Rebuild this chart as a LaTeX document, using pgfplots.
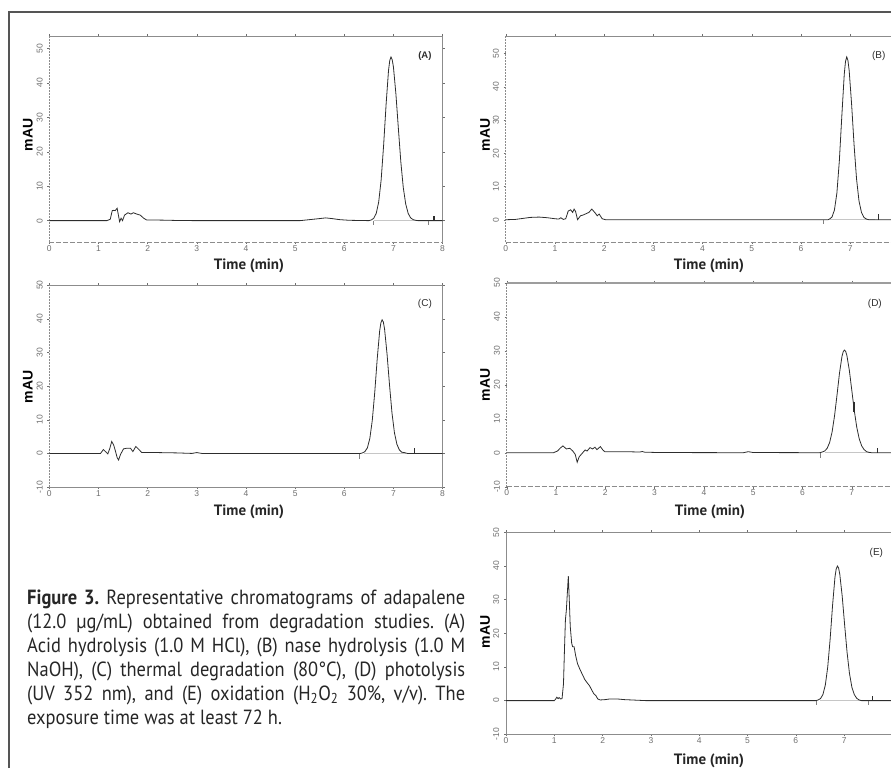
\documentclass[border=0pt]{standalone}
\usepackage{fontspec}
\setmainfont{PT Sans}
\newfontfamily\arial{Liberation Sans}
\newfontfamily\capfont{PT Sans}[FakeStretch=0.9]
\usepackage{pgfplots}
\pgfplotsset{compat=1.18}

\definecolor{framec}{RGB}{85,85,85}
\definecolor{axisc}{RGB}{140,140,140}
\definecolor{tracec}{RGB}{45,45,45}
\definecolor{tickc}{RGB}{110,110,110}

\pgfplotsset{
  chrom/.style={
    scale only axis, anchor=north west, clip=false,
    axis line style={draw=none},
    xmin=0, xtick={0,1,...,8}, ytick={-10,0,10,20,30,40,50},
    tick align=outside, major tick length=2pt,
    tick style={draw=tickc, line width=0.4pt},
    /pgf/number format/assume math mode=true,
    tick label style={font=\arial\fontsize{8.5}{9}\selectfont, text=tickc},
    xticklabel style={inner sep=1pt},
    yticklabel style={rotate=90, anchor=south, inner sep=0pt, inner ysep=4.5pt},
  },
  tr/.style={tracec, line width=0.8pt, mark=none},
  mk/.style={gray, line width=0.6pt, mark=none},
  bl/.style={gray!45, line width=0.6pt, mark=none},
}

\begin{document}
\frenchspacing
\begin{tikzpicture}
\path[use as bounding box] (0,0) rectangle (891pt,-768pt);
\draw[framec, line width=1.6pt] (9pt,-768pt) -- (9pt,-12pt) -- (891pt,-12pt);

% (A) acid hydrolysis
\begin{axis}[chrom, at={(49.3pt,-36pt)}, width=393.3pt, height=206pt,
  xmax=8, ymin=-6.2, ymax=53.6]
  \draw[axisc, line width=0.7pt] (rel axis cs:0,1) -- (rel axis cs:1,1) -- (rel axis cs:1,0);
  \draw[axisc, line width=0.6pt, dash pattern=on 2pt off 1pt] (rel axis cs:0,0) -- (rel axis cs:0,1);
  \draw[axisc, line width=0.6pt, dash pattern=on 5pt off 2pt] (rel axis cs:0,0) -- (rel axis cs:1,0);
  \addplot[bl] coordinates {(6.6,0)(7.7,0)};
  \addplot[tr] coordinates {
    (0,0)(1.17,0)(1.24,0.4)(1.28,2.9)(1.31,3.0)(1.34,2.9)(1.38,3.6)(1.43,-0.3)
    (1.46,0.7)(1.49,0)(1.53,1.6)(1.60,2.3)(1.66,1.9)(1.71,2.3)(1.78,1.9)
    (1.85,1.6)(1.92,0.7)(1.98,0.2)(2.3,0.15)(2.6,0.05)(3,0)(5.1,0)(5.3,0.3)
    (5.5,0.6)(5.62,0.8)(5.75,0.6)(5.9,0.3)(6.1,0.1)(6.5,0)
    (6.55,0.2)(6.6,0.7)(6.65,2.1)(6.7,5.4)(6.75,11.8)(6.8,21.8)(6.85,33.6)
    (6.9,43.6)(6.925,46.5)(6.95,47.5)(6.975,46.7)(7.0,44.6)(7.05,36.8)
    (7.1,26.8)(7.15,17.1)(7.2,9.6)(7.25,4.8)(7.3,2.1)(7.35,0.8)(7.4,0.3)
    (7.45,0.1)(7.5,0)(8,0)};
  \addplot[mk] coordinates {(6.6,0)(6.6,-1.2)};
  \addplot[mk] coordinates {(7.7,0)(7.7,-1.2)};
  \addplot[tr, line width=1.5pt] coordinates {(7.82,0)(7.82,1.3)};
  \node[font=\arial\bfseries\fontsize{9.5}{10}\selectfont, text=tracec] at (rel axis cs:0.955,0.902) {(A)};
\end{axis}

% (B) base hydrolysis
\begin{axis}[chrom, at={(505.7pt,-36pt)}, width=385.3pt, height=206pt,
  xmax=7.83, ymin=-6.7, ymax=55.3]
  \draw[axisc, line width=0.7pt] (rel axis cs:0,1) -- (rel axis cs:1,1);
  \draw[axisc, line width=0.6pt, dash pattern=on 2pt off 1pt] (rel axis cs:0,0) -- (rel axis cs:0,1);
  \draw[axisc, line width=0.6pt, dash pattern=on 5pt off 2pt] (rel axis cs:0,0) -- (rel axis cs:1,0);
  \addplot[bl] coordinates {(6.6,0)(7.5,0)};
  \addplot[tr] coordinates {
    (0,0)(0.2,0.1)(0.35,0.4)(0.5,0.7)(0.68,0.8)(0.85,0.6)(1.0,0.3)(1.08,0.2)
    (1.12,0.6)(1.17,0.1)(1.22,0.3)(1.27,2.6)(1.32,3.0)(1.36,2.2)(1.39,3.2)
    (1.42,2.5)(1.46,0)(1.52,1.2)(1.57,1.4)(1.63,1.8)(1.69,2.2)(1.75,3.2)
    (1.82,2.0)(1.86,1.2)(1.9,1.7)(1.96,0.3)(2.03,0)(6.55,0)
    (6.58,0.2)(6.63,0.8)(6.68,2.9)(6.73,8.0)(6.78,17.7)(6.83,31.1)(6.88,43.8)
    (6.905,47.6)(6.93,49)(6.955,47.9)(6.98,44.9)(7.03,34.6)(7.08,22.4)
    (7.13,12.2)(7.18,5.6)(7.23,2.2)(7.28,0.7)(7.33,0.2)(7.38,0)(7.83,0)};
  \addplot[mk] coordinates {(6.45,0)(6.45,-1.2)};
  \addplot[tr] coordinates {(7.57,0)(7.57,1.6)};
  \node[font=\arial\fontsize{10}{10}\selectfont, text=tracec] at (rel axis cs:0.968,0.902) {(B)};
\end{axis}

% (C) thermal degradation
\begin{axis}[chrom, at={(49.3pt,-285pt)}, width=393.3pt, height=202.3pt,
  xmax=8, ymin=-10, ymax=50]
  \draw[axisc, line width=0.7pt] (rel axis cs:0,0) -- (rel axis cs:1,0) -- (rel axis cs:1,1) -- (rel axis cs:0,1);
  \draw[axisc, line width=0.6pt, dash pattern=on 2pt off 1pt] (rel axis cs:0,0) -- (rel axis cs:0,1);
  \addplot[bl] coordinates {(6.4,0)(7.25,0)};
  \addplot[tr] coordinates {
    (0,0)(1.04,0)(1.10,1.2)(1.15,0.5)(1.19,-0.1)(1.23,1.5)(1.27,3.6)(1.31,2.5)
    (1.35,0.5)(1.38,-1.2)(1.41,-1.9)(1.45,-0.2)(1.51,1.4)(1.58,1.6)(1.65,1.6)
    (1.70,0.6)(1.76,2.1)(1.83,1.1)(1.88,0.3)(2.2,0.3)(2.6,0.2)(2.9,0.05)
    (3.0,0.3)(3.1,0.05)(6.32,0)
    (6.37,0.2)(6.42,0.6)(6.47,1.7)(6.52,4.5)(6.57,9.9)(6.62,18.2)(6.67,28.1)
    (6.72,36.4)(6.745,38.8)(6.77,39.7)(6.795,39.0)(6.82,36.9)(6.87,29.5)
    (6.92,20.4)(6.97,12.1)(7.02,6.2)(7.07,2.8)(7.12,1.1)(7.17,0.4)(7.22,0.3)
    (7.27,0.1)(7.3,0)(8,0)};
  \addplot[mk] coordinates {(6.3,0)(6.3,-1.5)};
  \addplot[tr] coordinates {(7.43,0)(7.43,1.6)};
  \node[font=\arial\fontsize{10}{10}\selectfont, text=tracec] at (rel axis cs:0.955,0.905) {(C)};
\end{axis}

% (D) photolysis
\begin{axis}[chrom, at={(506.7pt,-282.7pt)}, width=384.3pt, height=204pt,
  xmax=7.795, ymin=-10, ymax=50]
  \draw[axisc!85, line width=1.6pt] (rel axis cs:0,1) -- (rel axis cs:1,1);
  \draw[axisc, line width=0.6pt, dash pattern=on 2pt off 1pt] (rel axis cs:0,0) -- (rel axis cs:0,1);
  \draw[axisc, line width=0.6pt, dash pattern=on 5pt off 2pt] (rel axis cs:0,0) -- (rel axis cs:1,0);
  \addplot[bl] coordinates {(6.45,0)(7.35,0)};
  \addplot[tr] coordinates {
    (0,0)(0.95,0)(1.03,0.5)(1.09,1.4)(1.14,2.0)(1.21,1.1)(1.28,1.3)(1.34,0.5)
    (1.39,-0.5)(1.43,-2.8)(1.47,-1.2)(1.53,-0.2)(1.59,0.8)(1.63,0.5)(1.69,1.5)
    (1.74,1.1)(1.79,1.6)(1.83,0.9)(1.90,1.8)(1.95,0.8)(1.99,0.3)(2.4,0.3)
    (2.7,0.2)(2.75,0.35)(2.8,0.15)(3.1,0.05)(4.8,0)(4.9,0.3)(5.0,0.05)(6.35,0)
    (6.40,0.2)(6.45,0.5)(6.5,1.3)(6.55,3.0)(6.6,6.1)(6.65,10.9)(6.7,17.0)
    (6.75,23.4)(6.8,28.3)(6.825,29.7)(6.85,30.2)(6.875,29.8)(6.9,28.6)
    (6.95,24.2)(7.0,18.3)(7.05,12.4)(7.1,7.5)(7.15,4.1)(7.2,2.0)(7.25,0.9)
    (7.3,0.3)(7.35,0.1)(7.4,0)(7.795,0)};
  \addplot[mk] coordinates {(6.37,0)(6.37,-1.5)};
  \addplot[tr] coordinates {(7.52,0)(7.52,1.5)};
  \addplot[tr, line width=1.6pt] coordinates {(7.045,12)(7.045,15)};
  \node[font=\arial\fontsize{10}{10}\selectfont, text=tracec] at (rel axis cs:0.958,0.898) {(D)};
\end{axis}

% (E) oxidation
\begin{axis}[chrom, at={(506pt,-532.3pt)}, width=385pt, height=202pt,
  xmax=7.97, ymin=-10, ymax=50]
  \draw[axisc, line width=0.7pt] (rel axis cs:0,0) -- (rel axis cs:0,1) -- (rel axis cs:1,1);
  \draw[axisc, line width=0.7pt] (rel axis cs:0,0) -- (rel axis cs:1,0);
  \addplot[bl] coordinates {(6.5,0)(7.5,0)};
  \addplot[tr] coordinates {
    (0,0)(1.0,0)(1.03,0.5)(1.05,1.0)(1.08,0.6)(1.1,0.9)(1.13,0.5)(1.16,0.6)
    (1.19,5)(1.21,15)(1.23,24)(1.25,27)(1.27,32)(1.29,37)(1.31,30)(1.33,22)
    (1.36,17)(1.38,16)(1.41,16)(1.44,13.5)(1.48,11)(1.53,9.3)(1.58,7.8)
    (1.63,6.3)(1.68,5.3)(1.73,4.4)(1.78,3.0)(1.82,2.0)(1.86,1.5)(1.9,0.5)
    (1.95,0.2)(2.05,0.3)(2.15,0.5)(2.3,0.5)(2.45,0.3)(2.6,0.2)(2.75,0.1)
    (2.9,0)(6.42,0)
    (6.46,0.2)(6.51,0.6)(6.56,1.8)(6.61,4.6)(6.66,10.0)(6.71,18.3)(6.76,28.3)
    (6.81,36.7)(6.835,39.1)(6.86,40)(6.885,39.4)(6.91,37.5)(6.96,31.0)
    (7.01,22.5)(7.06,14.4)(7.11,8.1)(7.16,4.0)(7.21,1.8)(7.26,0.7)(7.31,0.2)
    (7.36,0)(7.97,0)};
  \addplot[mk] coordinates {(6.43,0)(6.43,-1.2)};
  \addplot[mk] coordinates {(7.5,0)(7.5,-1.2)};
  \addplot[tr] coordinates {(7.58,0)(7.58,1.3)};
  \node[font=\arial\fontsize{10}{10}\selectfont, text=tracec] at (rel axis cs:0.962,0.898) {(E)};
\end{axis}

% axis titles
\foreach \x/\y in {28/135, 485/135, 28/387, 485/385, 485/632}
  \node[rotate=90, font=\arial\bfseries\fontsize{14}{14}\selectfont, text=black] at (\x pt,-\y pt) {mAU};
\foreach \x/\y in {249/266, 709/266, 249/512, 710/512, 709/761}
  \node[font=\bfseries\fontsize{15}{15}\selectfont, text=black!85] at (\x pt,-\y pt) {Time (min)};

% caption
\begin{scope}[every node/.style={anchor=base west, inner sep=0pt, font=\capfont\fontsize{20.5}{24}\selectfont, text=black!85}]
  \node at (27pt,-604pt) {\makebox[438pt][s]{\textbf{Figure 3.} Representative chromatograms of adapalene}};
  \node at (27pt,-628pt) {\makebox[438pt][s]{(12.0 µg/mL) obtained from degradation studies. (A)}};
  \node at (27pt,-652pt) {\makebox[438pt][s]{Acid hydrolysis (1.0 M HCl), (B) nase hydrolysis (1.0 M}};
  \node at (27pt,-676pt) {\makebox[438pt][s]{NaOH), (C) thermal degradation (80°C), (D) photolysis}};
  \node at (27pt,-700pt) {\makebox[438pt][s]{(UV 352 nm), and (E) oxidation (H\textsubscript{2}O\textsubscript{2} 30\%, v/v). The}};
  \node at (27pt,-724pt) {exposure time was at least 72 h.};
\end{scope}
\end{tikzpicture}
\end{document}
